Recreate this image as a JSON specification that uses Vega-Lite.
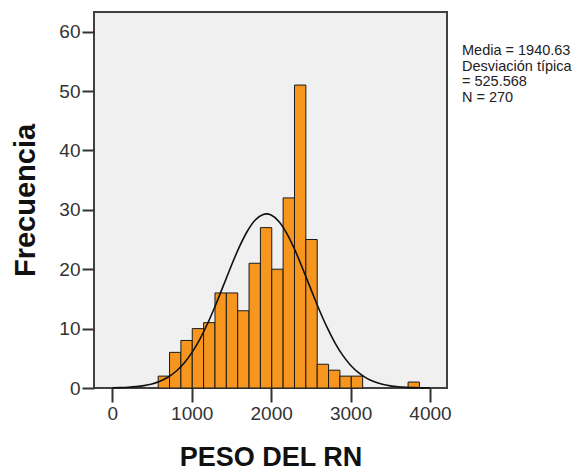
{
  "$schema": "https://vega.github.io/schema/vega-lite/v6.json",
  "width": 353,
  "height": 376,
  "autosize": "none",
  "padding": {"left": 94, "top": 12, "right": 133, "bottom": 86},
  "background": "white",
  "config": {
    "view": {"fill": "#F0F0F0", "stroke": "#404040", "strokeWidth": 2},
    "font": "Liberation Sans"
  },
  "title": {
    "text": ["Media = 1940.63", "Desviación típica", "= 525.568", "N = 270"],
    "orient": "top",
    "anchor": "end",
    "frame": "group",
    "align": "left",
    "baseline": "top",
    "offset": 0,
    "dx": 15,
    "dy": 93,
    "fontSize": 14.5,
    "fontWeight": "normal",
    "lineHeight": 15.5,
    "color": "#222222",
    "font": "Liberation Sans"
  },
  "datasets": {
    "bins": [
      {"start": 578, "end": 721, "count": 2},
      {"start": 721, "end": 864, "count": 6},
      {"start": 864, "end": 1007, "count": 8},
      {"start": 1007, "end": 1150, "count": 10},
      {"start": 1150, "end": 1293, "count": 11},
      {"start": 1293, "end": 1436, "count": 16},
      {"start": 1436, "end": 1579, "count": 16},
      {"start": 1579, "end": 1722, "count": 13},
      {"start": 1722, "end": 1865, "count": 21},
      {"start": 1865, "end": 2008, "count": 27},
      {"start": 2008, "end": 2151, "count": 20},
      {"start": 2151, "end": 2294, "count": 32},
      {"start": 2294, "end": 2437, "count": 51},
      {"start": 2437, "end": 2580, "count": 25},
      {"start": 2580, "end": 2723, "count": 4},
      {"start": 2723, "end": 2866, "count": 3},
      {"start": 2866, "end": 3009, "count": 2},
      {"start": 3009, "end": 3152, "count": 2},
      {"start": 3724, "end": 3867, "count": 1}
    ],
    "curve": [
      {"peso": 0, "freq": 0.032},
      {"peso": 100, "freq": 0.064},
      {"peso": 200, "freq": 0.122},
      {"peso": 300, "freq": 0.224},
      {"peso": 400, "freq": 0.399},
      {"peso": 500, "freq": 0.684},
      {"peso": 600, "freq": 1.133},
      {"peso": 700, "freq": 1.807},
      {"peso": 800, "freq": 2.781},
      {"peso": 900, "freq": 4.128},
      {"peso": 1000, "freq": 5.909},
      {"peso": 1100, "freq": 8.157},
      {"peso": 1200, "freq": 10.86},
      {"peso": 1300, "freq": 13.94},
      {"peso": 1400, "freq": 17.27},
      {"peso": 1500, "freq": 20.63},
      {"peso": 1600, "freq": 23.76},
      {"peso": 1700, "freq": 26.39},
      {"peso": 1800, "freq": 28.28},
      {"peso": 1900, "freq": 29.22},
      {"peso": 1940.63, "freq": 29.31},
      {"peso": 2000, "freq": 29.12},
      {"peso": 2100, "freq": 27.99},
      {"peso": 2200, "freq": 25.95},
      {"peso": 2300, "freq": 23.2},
      {"peso": 2400, "freq": 20.0},
      {"peso": 2500, "freq": 16.64},
      {"peso": 2600, "freq": 13.34},
      {"peso": 2700, "freq": 10.32},
      {"peso": 2800, "freq": 7.699},
      {"peso": 2900, "freq": 5.539},
      {"peso": 3000, "freq": 3.843},
      {"peso": 3100, "freq": 2.572},
      {"peso": 3200, "freq": 1.66},
      {"peso": 3300, "freq": 1.034},
      {"peso": 3400, "freq": 0.62},
      {"peso": 3500, "freq": 0.359},
      {"peso": 3600, "freq": 0.201},
      {"peso": 3700, "freq": 0.108},
      {"peso": 3800, "freq": 0.056},
      {"peso": 3900, "freq": 0.028},
      {"peso": 4000, "freq": 0.014}
    ]
  },
  "layer": [
    {
      "data": {"name": "bins"},
      "mark": {"type": "rect", "fill": "#F7961E", "stroke": "#1a1a1a", "strokeWidth": 1},
      "encoding": {
        "x": {
          "field": "start", "type": "quantitative",
          "scale": {"domain": [-230, 4214], "nice": false, "zero": false},
          "axis": {
            "values": [0, 1000, 2000, 3000, 4000],
            "format": "d",
            "title": "PESO DEL RN",
            "titleFont": "Liberation Sans",
            "titleFontSize": 27,
            "titleFontWeight": "bold",
            "titleColor": "#111111",
            "titlePadding": 21,
            "labelFont": "Liberation Sans",
            "labelFontSize": 19,
            "labelColor": "#333333",
            "labelPadding": 2,
            "tickSize": 14,
            "tickWidth": 2,
            "tickColor": "#333333",
            "domain": false,
            "grid": false
          }
        },
        "x2": {"field": "end"},
        "y": {
          "field": "count", "type": "quantitative",
          "scale": {"domain": [0, 63.3], "nice": false},
          "axis": {
            "values": [0, 10, 20, 30, 40, 50, 60],
            "format": "d",
            "title": "Frecuencia",
            "titleFont": "Liberation Sans",
            "titleFontSize": 29,
            "titleFontWeight": "bold",
            "titleColor": "#111111",
            "titlePadding": 18,
            "labelFont": "Liberation Sans",
            "labelFontSize": 19,
            "labelColor": "#333333",
            "labelPadding": 2,
            "tickSize": 12,
            "tickWidth": 2,
            "tickColor": "#333333",
            "domain": false,
            "grid": false
          }
        },
        "y2": {"datum": 0}
      }
    },
    {
      "data": {"name": "curve"},
      "mark": {"type": "line", "color": "#111111", "strokeWidth": 1.6, "interpolate": "monotone"},
      "encoding": {
        "x": {"field": "peso", "type": "quantitative"},
        "y": {"field": "freq", "type": "quantitative"}
      }
    }
  ]
}
